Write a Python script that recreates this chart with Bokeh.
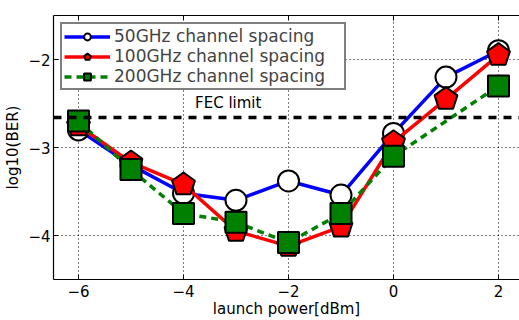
from bokeh.plotting import figure
from bokeh.models import Range1d, LinearAxis, FixedTicker, Label, Span, Legend, LegendItem
from bokeh.embed import file_html
from bokeh.resources import INLINE

# ---- data ----
power = [-6, -5, -4, -3, -2, -1, 0, 1, 2]
ber_50 = [-2.8, -3.2, -3.52, -3.6, -3.38, -3.54, -2.84, -2.2, -1.9]
ber_100 = [-2.75, -3.17, -3.42, -3.95, -4.12, -3.9, -2.94, -2.45, -1.95]
power_200 = [-6, -5, -4, -3, -2, -1, 0, 2]
ber_200 = [-2.7, -3.25, -3.75, -3.85, -4.08, -3.75, -3.1, -2.3]
fec_limit = -2.66
fec_label = "FEC limit"
fec_label_x = -3.78
x_ticks = [-6, -4, -2, 0, 2]
y_ticks = [-4, -3, -2]
labels = ["50GHz channel spacing", "100GHz channel spacing", "200GHz channel spacing"]

FONT = "DejaVu Sans"

p = figure(width=519, height=320, output_backend="svg", toolbar_location=None,
           x_range=Range1d(-6.476, 2.40), y_range=Range1d(-4.5, -1.5),
           min_border_left=53, min_border_right=0, min_border_top=15, min_border_bottom=40)
p.outline_line_color = None

for ax in (p.xaxis[0], p.yaxis[0]):
    ax.major_tick_in = 5
    ax.major_tick_out = 0
    ax.minor_tick_in = 0
    ax.minor_tick_out = 0
    ax.axis_line_color = "black"
    ax.axis_line_width = 1.2
    ax.major_tick_line_color = "black"
    ax.major_label_text_font = FONT
    ax.major_label_text_font_size = "15px"
    ax.major_label_text_color = "black"
    ax.axis_label_text_font = FONT
    ax.axis_label_text_font_size = "15px"
    ax.axis_label_text_font_style = "normal"
    ax.axis_label_text_color = "black"
p.xaxis.ticker = FixedTicker(ticks=x_ticks)
p.yaxis.ticker = FixedTicker(ticks=y_ticks)
p.xaxis.axis_label = "launch power[dBm]"
p.yaxis.axis_label = "log10(BER)"
p.xaxis.major_label_standoff = 5
p.xaxis.axis_label_standoff = 0
p.yaxis.major_label_standoff = 3
p.yaxis.axis_label_standoff = 3

top = LinearAxis(ticker=FixedTicker(ticks=x_ticks), major_tick_in=5, major_tick_out=0,
                 minor_tick_in=0, minor_tick_out=0, axis_line_color="black",
                 axis_line_width=1.2,
                 major_label_overrides={t: "" for t in x_ticks}, major_label_standoff=0)
p.add_layout(top, "above")

p.grid.grid_line_color = "black"
p.grid.grid_line_dash = "1 3"
p.grid.grid_line_width = 1
p.xgrid.ticker = FixedTicker(ticks=x_ticks)
p.ygrid.ticker = FixedTicker(ticks=y_ticks)

p.add_layout(Span(location=fec_limit, dimension="width", line_color="black",
                  line_width=3.5, line_dash="8 7"))
p.add_layout(Label(x=fec_label_x, y=fec_limit, y_offset=6, text=fec_label,
                   text_font=FONT, text_font_size="15px", text_color="black"))

l1 = p.line(power, ber_50, line_color="blue", line_width=3.5)
m1 = p.scatter(power, ber_50, marker="circle", size=21, fill_color="white",
               line_color="black", line_width=2)
l2 = p.line(power, ber_100, line_color="red", line_width=3.5)
m2 = p.ngon(power, ber_100, radius=12, radius_units="screen", n=5,
            fill_color="red", line_color="black", line_width=2)
l3 = p.line(power_200, ber_200, line_color="green", line_width=3.5, line_dash="7 5")
m3 = p.scatter(power_200, ber_200, marker="square", size=21, fill_color="green",
               line_color="black", line_width=2)

legend = Legend(items=[LegendItem(label=labels[0], renderers=[l1, m1]),
                       LegendItem(label=labels[1], renderers=[l2, m2]),
                       LegendItem(label=labels[2], renderers=[l3, m3])],
                location="top_left", margin=7,
                label_text_font=FONT, label_text_font_size="17px",
                border_line_color="black", border_line_width=2,
                padding=2, spacing=0, glyph_width=46, glyph_height=17,
                label_height=17, label_width=228, label_standoff=4,
                background_fill_alpha=1)
p.add_layout(legend)

open("out.html", "w").write(file_html(p, INLINE))
